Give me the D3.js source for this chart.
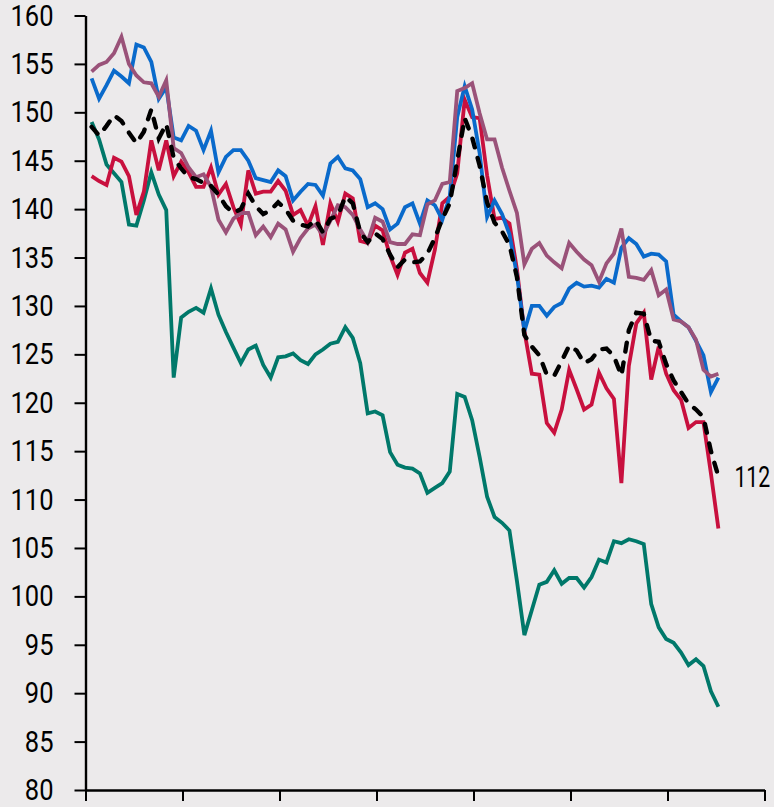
<!DOCTYPE html>
<html>
<head>
<meta charset="utf-8">
<script src="https://cdn.jsdelivr.net/npm/d3@7"></script>
<style>
  html, body { margin: 0; padding: 0; background: #ECEAEB; }
  svg { display: block; }
  text { font-family: Roboto, "Noto Sans", sans-serif; }
</style>
</head>
<body>
<div id="chart"></div>
<script>
// ---- data (85 four-weekly periods) ----
const blueSeries = [153.5,151.4,152.8,154.3,153.7,153.0,157.0,156.7,155.2,151.4,152.6,147.4,147.1,148.6,148.1,146.1,148.1,143.8,145.4,146.1,146.1,145.0,143.2,143.0,142.8,144.0,143.4,140.9,141.8,142.6,142.5,141.4,144.7,145.4,144.2,144.0,143.1,140.2,140.6,140.0,137.9,138.5,140.2,140.6,138.5,140.9,140.4,138.9,141.3,149.5,152.7,150.3,145.8,139.2,140.9,139.5,137.4,133.2,127.4,130.0,130.0,129.0,129.9,130.3,131.8,132.4,132.0,132.1,131.9,132.8,132.4,136.0,137.0,136.4,135.1,135.4,135.3,134.6,129.1,128.4,127.8,126.4,124.9,121.1,122.6];
const purpleSeries = [154.2,154.9,155.2,156.1,157.8,155.0,153.8,153.1,153.0,151.6,153.3,146.3,145.8,144.3,143.3,143.6,142.3,138.9,137.6,139.0,139.6,139.6,137.3,138.2,137.1,138.5,137.9,135.6,137.0,138.0,138.4,137.3,138.8,140.4,140.2,139.4,137.9,136.6,139.1,138.7,136.6,136.4,136.4,137.4,137.3,140.5,140.9,142.6,142.8,152.2,152.5,153.0,149.9,147.2,147.2,144.3,141.9,139.6,134.3,135.9,136.5,135.2,134.5,133.9,136.5,135.6,134.8,134.2,132.5,134.4,135.4,138.0,133.0,132.9,132.7,133.7,131.1,131.7,128.6,128.4,127.8,126.5,123.4,122.7,123.0];
const redSeries = [143.4,142.9,142.5,145.3,144.9,143.4,139.4,141.8,147.1,144.0,147.1,143.4,144.9,143.8,142.3,142.3,144.3,141.5,142.6,140.2,138.4,144.0,141.6,141.8,141.8,142.9,141.9,139.4,139.9,138.3,140.3,136.3,140.6,138.7,141.6,141.1,136.7,136.5,138.3,137.8,135.2,133.2,135.5,135.9,133.4,132.4,135.8,140.6,141.3,143.7,151.3,149.5,149.4,143.5,139.0,139.1,138.5,133.8,127.4,123.0,122.9,117.9,116.9,119.3,123.4,121.4,119.3,119.8,123.1,121.5,120.4,111.7,123.8,128.2,129.3,122.4,125.8,123.0,121.3,120.3,117.4,118.0,118.0,112.7,107.0];
const greenSeries = [149.0,147.2,144.6,143.7,142.8,138.4,138.3,140.9,143.8,141.5,139.9,122.6,128.8,129.4,129.8,129.3,131.8,129.1,127.3,125.7,124.1,125.5,125.9,123.9,122.6,124.7,124.8,125.1,124.4,124.0,125.0,125.5,126.1,126.3,127.8,126.7,124.1,118.9,119.1,118.7,114.9,113.6,113.3,113.2,112.7,110.7,111.2,111.7,112.9,120.9,120.6,118.2,114.4,110.3,108.2,107.6,106.8,101.6,96.0,98.6,101.2,101.5,102.7,101.3,101.9,101.9,100.9,102.0,103.8,103.5,105.7,105.5,105.9,105.7,105.4,99.2,96.8,95.6,95.2,94.2,92.9,93.5,92.8,90.2,88.6];
const blackSeries = [148.5,147.6,148.6,149.7,149.1,147.9,146.8,148.0,150.3,147.3,148.8,145.3,144.2,143.3,143.1,142.7,142.4,141.5,140.3,139.6,140.0,141.6,140.3,139.5,139.9,140.7,140.0,138.8,138.4,138.2,138.9,137.6,139.0,139.3,141.3,140.6,137.6,136.6,137.5,136.9,135.3,134.0,134.8,134.5,134.6,135.4,137.0,139.0,140.6,145.0,149.4,147.4,144.5,140.7,138.6,137.7,136.3,133.0,127.0,125.8,124.9,122.9,122.8,124.3,125.9,125.4,124.1,124.5,125.5,125.6,124.8,122.8,127.5,129.3,129.2,126.4,126.3,124.0,122.3,121.1,119.9,119.3,118.5,115.0,112.4];
const yTickValues = [80,85,90,95,100,105,110,115,120,125,130,135,140,145,150,155,160];
const periodsPerTick = 13;
const tickCount = 8;
const endLabel = "112";

// ---- layout ----
const W = 774, H = 807;
const FONT_SIZE = 30;
const AXIS_SX = 0.85;   // horizontal condensing of the axis digits
const LABEL_SX = 0.71;  // horizontal condensing of the end label
const svg = d3.select("#chart").append("svg")
  .attr("width", W).attr("height", H)
  .style("background", "#ECEAEB");

const x = d3.scaleLinear().domain([-0.82, 90.18]).range([85.5, 764.5]);
const y = d3.scaleLinear().domain([80, 160]).range([790, 15.5]);

// y axis
const yAxis = d3.axisLeft(y).tickValues(yTickValues).tickSize(11).tickSizeOuter(0).tickPadding(21);
const gy = svg.append("g").attr("transform", `translate(${x(-0.82)},0)`).call(yAxis);
gy.select(".domain").attr("stroke", "#000").attr("stroke-width", 2.4);
gy.selectAll(".tick line").attr("stroke", "#000").attr("stroke-width", 2);
gy.selectAll(".tick text")
  .attr("fill", "#000")
  .style("font-size", FONT_SIZE + "px")
  .style("font-family", "Roboto, sans-serif")
  .attr("x", 0)
  .attr("transform", `translate(-32,0) scale(${AXIS_SX},1)`);

// x axis
const xTicks = d3.range(tickCount).map(k => -0.82 + k * periodsPerTick);
const xAxis = d3.axisBottom(x).tickValues(xTicks).tickSize(11).tickSizeOuter(0).tickFormat("");
const gx = svg.append("g").attr("transform", `translate(0,${y(80)})`).call(xAxis);
gx.select(".domain").attr("stroke", "#000").attr("stroke-width", 2.4);
gx.selectAll(".tick line").attr("stroke", "#000").attr("stroke-width", 2);

// lines
const line = d3.line().x((d, i) => x(i)).y(d => y(d));
const series = [
  { data: greenSeries, color: "#00786A", width: 3.8, dash: null },
  { data: redSeries, color: "#C8103E", width: 3.8, dash: null },
  { data: blueSeries, color: "#0A6ACB", width: 3.8, dash: null },
  { data: purpleSeries, color: "#9A5279", width: 3.8, dash: null },
  { data: blackSeries, color: "#000000", width: 4.4, dash: "9 11" }
];
series.forEach(s => {
  const p = svg.append("path").datum(s.data)
    .attr("d", line)
    .attr("fill", "none")
    .attr("stroke", s.color)
    .attr("stroke-width", s.width)
    .attr("stroke-linejoin", "miter");
  if (s.dash) p.attr("stroke-dasharray", s.dash).attr("stroke-linecap", "round");
});

// end label
const lastIdx = blackSeries.length - 1;
svg.append("text")
  .attr("transform", `translate(${x(lastIdx) + 16},${y(blackSeries[lastIdx])}) scale(${LABEL_SX},1)`)
  .attr("dy", "0.36em")
  .attr("fill", "#000")
  .style("font-size", FONT_SIZE + "px")
  .text(endLabel);
</script>
</body>
</html>
